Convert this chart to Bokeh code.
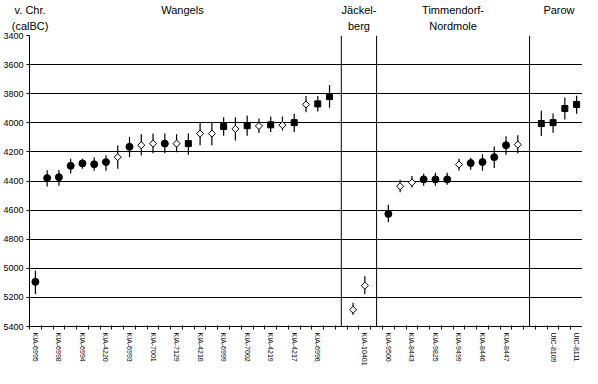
import math
from bokeh.plotting import figure
from bokeh.models import Range1d, FixedTicker, Span, ColumnDataSource, LinearAxis
from bokeh.embed import file_html
from bokeh.resources import INLINE

# ---------------- data ----------------
title_line1 = ["Wangels", "Jäckel-", "Timmendorf-", "Parow"]
title_line2 = ["", "berg", "Nordmole", ""]
unit_line1 = "v. Chr."
unit_line2 = "(calBC)"
group_sizes = [26, 2, 12, 4]

# calibrated date (calBC), lower / upper end of the error bar, marker kind
dates = [5093, 4380, 4374, 4296, 4279, 4285, 4270, 4236, 4165, 4154,
         4143, 4143, 4143, 4143, 4074, 4074, 4025, 4042, 4020, 4022,
         4014, 4016, 3999, 3874, 3870, 3820,
         5285, 5119,
         4626, 4436, 4410, 4389, 4389, 4389, 4287, 4277, 4270, 4236,
         4154, 4150,
         4005, 3999, 3902, 3874]
err_lo = [5016, 4326, 4324, 4247, 4247, 4236, 4223, 4156, 4096, 4078,
          4074, 4074, 4078, 4074, 3995, 3995, 3962, 3962, 3949, 3971,
          3956, 3956, 3938, 3816, 3816, 3741,
          5237, 5054,
          4563, 4391, 4365, 4350, 4343, 4343, 4247, 4240, 4216, 4163,
          4093, 4085,
          3917, 3936, 3826, 3814]
err_hi = [5177, 4438, 4432, 4348, 4316, 4329, 4329, 4316, 4236, 4225,
          4210, 4210, 4203, 4220, 4154, 4154, 4089, 4122, 4089, 4070,
          4064, 4053, 4064, 3928, 3923, 3896,
          5319, 5177,
          4684, 4477, 4445, 4432, 4432, 4426, 4329, 4322, 4329, 4311,
          4219, 4210,
          4090, 4068, 3977, 3938]
kinds = ["c", "c", "c", "c", "c", "c", "c", "d", "c", "d",
         "d", "c", "d", "s", "d", "d", "s", "d", "s", "d",
         "s", "d", "s", "d", "s", "s",
         "d", "d",
         "c", "d", "d", "c", "c", "c", "d", "c", "c", "c",
         "c", "d",
         "s", "s", "s", "s"]
tick_labels = ["KIA-6995", "KIA-6998", "KIA-6994", "KIA-4220", "KIA-6993",
               "KIA-7001", "KIA-7129", "KIA-4216", "KIA-6999", "KIA-7002",
               "KIA-4219", "KIA-4217", "KIA-6996",
               "KIA-10401",
               "KIA-9500", "KIA-8443", "KIA-9825", "KIA-9499", "KIA-8446",
               "KIA-8447",
               "UtC-8109", "UtC-8111"]
y_ticks = list(range(3400, 5401, 200))

# ---------------- category positions ----------------
xs, separators, centers = [], [], []
cursor = 0
for n in group_sizes:
    pos = list(range(cursor, cursor + n))
    xs.extend(pos)
    centers.append((pos[0] + pos[-1]) / 2)
    separators.append(cursor + n)
    cursor += n + 1
separators = separators[:-1]
n_cat = xs[-1] + 1
x_start, x_end = -0.5, n_cat - 0.5

label_pos = [x for x in xs if x % 2 == 0]
overrides = {p_: t for p_, t in zip(label_pos, tick_labels)}

marker_map = {"c": "circle", "s": "square", "d": "square"}
size_map = {"c": 7, "s": 6, "d": 5}
fill_map = {"c": "black", "s": "black", "d": "white"}
angle_map = {"c": 0.0, "s": 0.0, "d": math.pi / 4}

src = ColumnDataSource(dict(
    x=xs, y=dates, lo=err_lo, hi=err_hi,
    marker=[marker_map[k] for k in kinds],
    size=[size_map[k] for k in kinds],
    fill=[fill_map[k] for k in kinds],
    angle=[angle_map[k] for k in kinds],
))

FONT = "Liberation Sans"

p = figure(width=582, height=368, output_backend="svg", toolbar_location=None,
           x_range=Range1d(x_start, x_end), y_range=Range1d(5400, 3400),
           min_border_top=0, min_border_right=0, min_border_left=0,
           min_border_bottom=0)
p.outline_line_color = None
p.background_fill_color = "white"
p.border_fill_color = "white"

# bottom axis
p.xaxis.ticker = FixedTicker(ticks=label_pos,
                             minor_ticks=[i - 0.5 for i in range(n_cat + 1)])
p.xaxis.major_label_overrides = overrides
p.xaxis.major_label_orientation = "vertical"
p.xaxis.major_tick_line_color = None
p.xaxis.major_tick_out = 0
p.xaxis.major_tick_in = 0
p.xaxis.minor_tick_line_color = "black"
p.xaxis.minor_tick_out = 3
p.xaxis.minor_tick_in = 1
p.xaxis.major_label_standoff = 3
p.xaxis.major_label_text_font = FONT
p.xaxis.major_label_text_font_size = "7px"
p.xaxis.major_label_text_color = "black"
p.xaxis.axis_line_color = "black"

# left axis
p.yaxis.ticker = FixedTicker(ticks=y_ticks, minor_ticks=[])
p.yaxis.major_tick_out = 3
p.yaxis.major_tick_in = 0
p.yaxis.major_tick_line_color = "black"
p.yaxis.major_label_standoff = 3
p.yaxis.major_label_text_font = FONT
p.yaxis.major_label_text_font_size = "9px"
p.yaxis.major_label_text_color = "black"
p.yaxis.axis_line_color = "black"

p.xgrid.grid_line_color = None
p.ygrid.grid_line_color = "black"
p.ygrid.grid_line_width = 1

# header: group names (two lines) and the unit above the value axis
head_pos = [x_start + 0.05] + centers
lines2 = [unit_line2] + title_line2
lines1 = [unit_line1] + title_line1
for lines, standoff in ((lines2, 4), (lines1, 1)):
    ax = LinearAxis(ticker=FixedTicker(ticks=head_pos, minor_ticks=[]),
                    major_label_overrides={hp: t for hp, t in zip(head_pos, lines)})
    ax.axis_line_color = None
    ax.major_tick_line_color = None
    ax.minor_tick_line_color = None
    ax.major_tick_out = 0
    ax.major_tick_in = 0
    ax.minor_tick_out = 0
    ax.minor_tick_in = 0
    ax.major_label_standoff = standoff
    ax.major_label_text_font = FONT
    ax.major_label_text_font_size = "11px"
    ax.major_label_text_color = "black"
    p.add_layout(ax, "above")

for s in separators:
    p.add_layout(Span(location=s, dimension="height", line_color="black", line_width=1))

# error bars + markers
p.segment(x0="x", y0="lo", x1="x", y1="hi", source=src, line_color="black", line_width=1.2)
p.scatter(x="x", y="y", marker="marker", size="size", angle="angle",
          fill_color="fill", line_color="black", line_width=1, source=src)

open("out.html", "w").write(file_html(p, INLINE))
